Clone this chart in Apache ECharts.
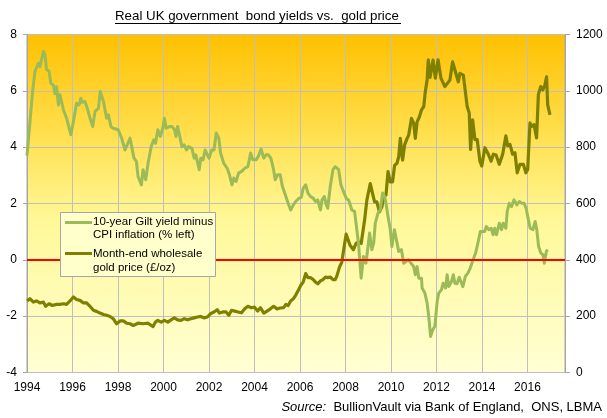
<!DOCTYPE html>
<html>
<head>
<meta charset="utf-8">
<script src="https://cdn.jsdelivr.net/npm/echarts@6/dist/echarts.min.js"></script>
<style>html,body{margin:0;padding:0;background:#fff}#c{width:607px;height:418px}</style>
</head>
<body>
<div id="c"></div>
<script>
// ---- data ----
const xTickYears = [1994,1996,1998,2000,2002,2004,2006,2008,2010,2012,2014,2016];
const leftTicks = [-4,-2,0,2,4,6,8];
const rightTicks = [0,200,400,600,800,1000,1200];

const yieldYears = [1994.00,1994.13,1994.25,1994.35,1994.50,1994.57,1994.72,1994.79,1994.86,1994.97,1995.05,1995.16,1995.23,1995.30,1995.38,1995.45,1995.60,1995.74,1995.93,1996.08,1996.18,1996.29,1996.37,1996.43,1996.55,1996.67,1996.77,1996.89,1996.99,1997.14,1997.22,1997.36,1997.50,1997.58,1997.69,1997.79,1998.01,1998.16,1998.31,1998.53,1998.70,1998.81,1998.88,1999.03,1999.10,1999.22,1999.32,1999.46,1999.57,1999.65,1999.75,1999.86,1999.97,2000.04,2000.12,2000.26,2000.38,2000.48,2000.55,2000.62,2000.70,2000.81,2000.91,2001.01,2001.10,2001.25,2001.35,2001.42,2001.49,2001.57,2001.64,2001.74,2001.83,2001.93,2002.00,2002.12,2002.22,2002.32,2002.43,2002.51,2002.65,2002.80,2002.90,2003.01,2003.09,2003.19,2003.30,2003.45,2003.57,2003.71,2003.83,2003.93,2004.07,2004.17,2004.29,2004.41,2004.51,2004.61,2004.72,2004.84,2004.91,2005.01,2005.13,2005.23,2005.38,2005.48,2005.59,2005.71,2005.81,2005.96,2006.06,2006.14,2006.25,2006.35,2006.46,2006.58,2006.68,2006.78,2006.90,2006.97,2007.07,2007.16,2007.22,2007.33,2007.45,2007.55,2007.70,2007.80,2007.91,2008.03,2008.15,2008.28,2008.40,2008.50,2008.57,2008.69,2008.79,2008.90,2008.99,2009.06,2009.16,2009.24,2009.31,2009.43,2009.53,2009.63,2009.72,2009.78,2009.87,2009.97,2010.04,2010.15,2010.24,2010.34,2010.46,2010.56,2010.66,2010.78,2010.88,2011.00,2011.07,2011.15,2011.22,2011.34,2011.37,2011.49,2011.59,2011.66,2011.74,2011.84,2011.93,2012.03,2012.10,2012.22,2012.29,2012.40,2012.47,2012.54,2012.66,2012.74,2012.81,2012.90,2013.00,2013.08,2013.16,2013.27,2013.38,2013.48,2013.56,2013.63,2013.72,2013.82,2013.93,2014.01,2014.12,2014.19,2014.31,2014.41,2014.49,2014.56,2014.64,2014.76,2014.86,2014.93,2015.05,2015.11,2015.20,2015.30,2015.41,2015.53,2015.64,2015.75,2015.85,2015.94,2016.04,2016.12,2016.24,2016.34,2016.41,2016.49,2016.59,2016.68,2016.74,2016.83,2016.89];
const yieldPct = [3.70,4.90,6.00,6.69,6.98,6.86,7.40,7.28,6.75,6.70,6.27,6.20,5.90,6.15,5.50,5.86,5.33,5.03,4.44,5.09,5.56,5.50,5.74,5.59,5.62,5.33,5.03,4.73,5.27,5.38,5.98,5.62,5.03,5.15,4.73,4.67,4.62,4.32,3.90,4.32,3.62,3.49,2.96,2.66,3.20,2.84,3.43,4.02,4.26,4.14,4.62,4.38,4.67,5.03,4.67,4.73,4.73,4.62,4.38,4.73,4.44,4.02,4.08,3.90,4.02,3.96,3.61,3.73,3.49,3.20,3.61,3.55,3.90,3.73,3.61,3.90,3.90,4.50,4.32,3.79,3.43,3.25,3.02,2.66,2.90,2.78,3.08,3.15,3.25,3.31,3.79,3.55,3.55,3.67,3.93,3.61,3.73,3.73,3.61,3.20,2.84,3.02,3.02,2.60,2.25,2.01,1.77,1.95,2.07,2.19,2.22,2.54,2.66,2.37,2.25,2.19,2.07,2.13,1.77,2.13,2.25,1.95,1.83,2.60,3.20,3.31,3.20,2.66,2.43,2.19,2.10,1.77,1.72,1.07,0.59,-0.65,0.12,-0.12,0.47,0.95,0.36,0.59,1.30,1.66,1.77,2.37,2.25,2.01,1.54,1.07,0.47,1.07,0.71,0.30,0.36,-0.12,-0.06,0.00,-0.12,-0.24,-0.53,-0.24,-0.65,-0.65,-1.00,-1.18,-1.54,-2.01,-2.72,-2.48,-2.36,-1.48,-1.18,-1.06,-0.83,-1.00,-0.53,-0.95,-0.77,-0.53,-0.83,-0.85,-0.62,-0.65,-0.95,-0.59,-0.47,-0.30,-0.24,0.05,0.24,0.59,1.01,1.07,1.01,1.18,1.07,1.12,0.89,1.12,0.89,1.30,1.07,1.30,1.12,1.72,2.01,1.89,2.13,1.95,2.07,2.01,2.01,1.83,1.42,1.12,1.07,1.36,1.07,0.47,0.24,0.18,-0.12,0.30,0.36];

const goldYears = [1994.00,1994.13,1994.28,1994.42,1994.57,1994.72,1994.82,1994.97,1995.11,1995.30,1995.45,1995.60,1995.74,1995.89,1996.04,1996.18,1996.33,1996.48,1996.62,1996.77,1996.92,1997.06,1997.21,1997.36,1997.50,1997.65,1997.79,1997.94,1998.09,1998.23,1998.38,1998.53,1998.67,1998.88,1999.10,1999.32,1999.54,1999.65,1999.75,1999.90,2000.04,2000.19,2000.33,2000.48,2000.62,2000.77,2000.91,2001.06,2001.20,2001.35,2001.49,2001.64,2001.78,2001.93,2002.07,2002.22,2002.36,2002.46,2002.61,2002.75,2002.87,2002.99,2003.13,2003.28,2003.43,2003.57,2003.71,2003.86,2004.00,2004.14,2004.26,2004.41,2004.55,2004.70,2004.84,2004.99,2005.13,2005.28,2005.38,2005.48,2005.59,2005.71,2005.81,2005.91,2006.03,2006.14,2006.25,2006.35,2006.46,2006.58,2006.68,2006.78,2006.90,2007.01,2007.12,2007.22,2007.33,2007.45,2007.55,2007.62,2007.74,2007.84,2007.94,2008.03,2008.10,2008.20,2008.25,2008.35,2008.46,2008.57,2008.69,2008.76,2008.84,2008.94,2009.09,2009.19,2009.28,2009.38,2009.49,2009.60,2009.68,2009.78,2009.87,2009.97,2010.07,2010.16,2010.26,2010.34,2010.41,2010.51,2010.60,2010.71,2010.78,2010.90,2011.00,2011.07,2011.15,2011.25,2011.34,2011.44,2011.51,2011.59,2011.64,2011.72,2011.85,2011.95,2012.07,2012.20,2012.37,2012.59,2012.71,2012.81,2012.96,2013.03,2013.18,2013.35,2013.44,2013.50,2013.59,2013.69,2013.79,2013.91,2013.99,2014.13,2014.28,2014.40,2014.50,2014.62,2014.76,2014.91,2015.05,2015.13,2015.23,2015.35,2015.45,2015.55,2015.67,2015.82,2015.93,2016.01,2016.11,2016.18,2016.29,2016.40,2016.48,2016.58,2016.67,2016.77,2016.84,2016.89,2016.99];
const goldGBP = [254,262,250,254,247,250,235,244,238,242,242,244,242,254,268,259,256,247,247,235,221,217,211,206,203,199,191,173,183,183,175,173,167,175,173,175,163,179,185,179,185,179,187,194,187,185,191,187,191,194,197,199,194,197,209,215,223,211,215,215,203,221,218,215,212,226,235,230,232,218,230,211,218,226,235,226,229,230,242,238,254,262,274,289,309,321,351,337,337,330,321,315,325,330,339,337,339,330,330,342,375,392,446,491,484,452,458,436,458,464,458,458,541,612,671,636,606,606,570,588,624,630,713,677,677,736,742,766,831,754,808,831,843,902,885,831,890,908,932,944,997,1039,1110,1048,1109,1045,1110,1044,1015,1038,1103,1074,1032,1062,1056,944,921,792,897,827,827,750,733,798,775,750,775,772,739,775,840,805,810,775,780,709,739,739,709,721,886,874,880,833,987,1015,1003,1021,1050,950,915];

const titleText = 'Real UK government  bond yields vs.  gold price';
const legendNames = ['10-year Gilt yield minus\nCPI inflation (% left)', 'Month-end wholesale\ngold price (£/oz)'];
const sourceText = '{i|Source:}  BullionVault via Bank of England,  ONS, LBMA';

// ---- chart ----
const FONT = '"Liberation Sans", Arial, sans-serif';
const GREEN = '#9BBB59', OLIVE = '#808000', GRID = '#BFBFBF', AXIS = '#A6A6A6';
const zip = (a, b) => a.map((v, i) => [v, b[i]]);

const chart = echarts.init(document.getElementById('c'), null, {renderer: 'canvas'});
chart.setOption({
  animation: false,
  textStyle: {fontFamily: FONT},
  title: {
    text: titleText, left: 115, top: 9.5, padding: 0,
    textStyle: {fontFamily: FONT, fontSize: 13.3, fontWeight: 'normal', color: '#000'}
  },
  grid: {
    left: 27, right: 42, top: 34.5, bottom: 45.5,
    show: true, borderColor: AXIS, borderWidth: 1,
    backgroundColor: {type: 'linear', x: 0, y: 0, x2: 0, y2: 1, colorStops: [
      {offset: 0, color: '#FFC000'},
      {offset: 0.3, color: '#FFE050'},
      {offset: 0.55, color: '#FFF898'},
      {offset: 1, color: '#FFFFD4'}
    ]}
  },
  xAxis: {
    type: 'value', min: xTickYears[0], max: 2017.65, interval: 2,
    axisLine: {show: true, lineStyle: {color: AXIS}},
    axisTick: {show: false},
    splitLine: {show: true, lineStyle: {color: GRID, width: 1}},
    axisLabel: {
      color: '#000', fontSize: 12, margin: 9, showMaxLabel: false,
      formatter: v => (xTickYears.indexOf(Math.round(v)) >= 0 && Math.abs(v - Math.round(v)) < 1e-6) ? String(Math.round(v)) : ''
    }
  },
  yAxis: [{
    type: 'value', min: leftTicks[0], max: leftTicks[leftTicks.length - 1], interval: 2,
    axisLine: {show: true, lineStyle: {color: AXIS}},
    axisTick: {show: true, length: 4, lineStyle: {color: AXIS}},
    splitLine: {show: true, lineStyle: {color: GRID, width: 1}},
    axisLabel: {color: '#000', fontSize: 12, margin: 10, formatter: v => String(v)}
  }, {
    type: 'value', min: rightTicks[0], max: rightTicks[rightTicks.length - 1], interval: 200,
    axisLine: {show: true, lineStyle: {color: AXIS}},
    axisTick: {show: true, length: 5, lineStyle: {color: AXIS}},
    splitLine: {show: false},
    axisLabel: {color: '#000', fontSize: 12, margin: 11, formatter: v => String(v)}
  }],
  series: [{
    name: 'zero', type: 'line', yAxisIndex: 0, data: [], z: 1, silent: true,
    markLine: {
      silent: true, symbol: ['none', 'none'], label: {show: false},
      lineStyle: {color: '#FF0000', width: 2, type: 'solid'},
      data: [{yAxis: 0}]
    }
  }, {
    name: legendNames[1], type: 'line', yAxisIndex: 1, z: 2,
    data: zip(goldYears, goldGBP), showSymbol: false, symbol: 'none',
    lineStyle: {color: OLIVE, width: 3.2, join: 'round'}
  }, {
    name: legendNames[0], type: 'line', yAxisIndex: 0, z: 3,
    data: zip(yieldYears, yieldPct), showSymbol: false, symbol: 'none',
    lineStyle: {color: GREEN, width: 3, join: 'round'}
  }],
  graphic: [
    {type: 'line', shape: {x1: 115, y1: 23.5, x2: 401, y2: 23.5}, style: {stroke: '#000', lineWidth: 1}, z: 10},
    {type: 'rect', shape: {x: 60.5, y: 212.5, width: 155, height: 64}, style: {fill: '#FFFFCC', stroke: AXIS, lineWidth: 1}, z: 10},
    {type: 'line', shape: {x1: 65, y1: 222.5, x2: 92, y2: 222.5}, style: {stroke: GREEN, lineWidth: 3}, z: 11},
    {type: 'line', shape: {x1: 65, y1: 253.5, x2: 92, y2: 253.5}, style: {stroke: OLIVE, lineWidth: 3}, z: 11},
    {type: 'text', x: 93, y: 216, style: {text: legendNames[0], fontFamily: FONT, fontSize: 11.5, lineHeight: 12.5, fill: '#000'}, z: 11},
    {type: 'text', x: 93, y: 247.5, style: {text: legendNames[1], fontFamily: FONT, fontSize: 11.5, lineHeight: 13.5, fill: '#000'}, z: 11},
    {type: 'text', right: 5, top: 401, style: {text: sourceText, fontFamily: FONT, fontSize: 13, fill: '#000',
      rich: {i: {fontStyle: 'italic', fontFamily: FONT, fontSize: 13}}}, z: 11}
  ]
});
</script>
</body>
</html>
